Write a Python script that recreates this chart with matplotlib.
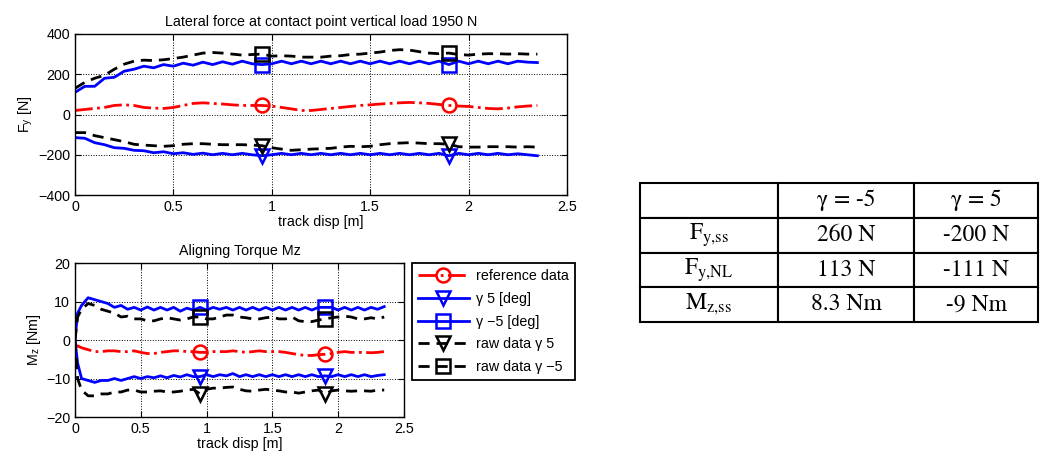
import numpy as np
import matplotlib
matplotlib.use('Agg')
import matplotlib.pyplot as plt

plt.rcParams['font.family'] = ['Liberation Sans', 'DejaVu Sans']
plt.rcParams['font.size'] = 10.3
plt.rcParams['mathtext.fontset'] = 'stix'

# ---- lateral force data, track disp step 0.05 m ----
x_fy = [0.00, 0.05, 0.10, 0.15, 0.20, 0.25, 0.30, 0.35, 0.40, 0.45, 0.50, 0.55,
        0.60, 0.65, 0.70, 0.75, 0.80, 0.85, 0.90, 0.95, 1.00, 1.05, 1.10, 1.15,
        1.20, 1.25, 1.30, 1.35, 1.40, 1.45, 1.50, 1.55, 1.60, 1.65, 1.70, 1.75,
        1.80, 1.85, 1.90, 1.95, 2.00, 2.05, 2.10, 2.15, 2.20, 2.25, 2.30, 2.35]

fy_ref = [20, 25, 30, 35, 45, 48, 45, 35, 32, 30, 35, 45,
          55, 58, 55, 52, 48, 45, 45, 45, 42, 35, 28, 20,
          20, 25, 30, 35, 40, 45, 48, 52, 55, 58, 60, 58,
          55, 50, 45, 42, 40, 35, 30, 28, 32, 38, 42, 45]
fy_g5 = [-115, -118, -140, -150, -165, -168, -178, -180, -190, -185, -195, -190,
         -198, -192, -200, -193, -200, -193, -200, -205, -200, -193, -200, -193,
         -200, -193, -200, -193, -200, -193, -200, -193, -200, -193, -200, -193,
         -200, -193, -205, -193, -200, -193, -200, -193, -200, -195, -200, -205]
fy_gm5 = [110, 140, 140, 180, 185, 215, 225, 240, 232, 248, 240, 255,
          245, 260, 248, 262, 250, 265, 252, 248, 252, 265, 252, 265,
          252, 265, 252, 265, 252, 265, 252, 265, 252, 265, 252, 265,
          252, 265, 248, 265, 252, 265, 252, 265, 252, 265, 260, 258]
fy_raw5 = [-90, -90, -105, -115, -125, -135, -148, -152, -155, -158, -155, -148,
           -145, -145, -148, -150, -150, -150, -152, -155, -165, -172, -178, -175,
           -172, -170, -168, -162, -158, -160, -158, -150, -145, -142, -140, -142,
           -145, -145, -148, -160, -162, -162, -160, -160, -160, -162, -160, -162]
fy_rawm5 = [130, 160, 180, 195, 225, 250, 265, 270, 268, 272, 278, 285,
            295, 305, 308, 305, 300, 295, 298, 300, 290, 292, 290, 285,
            285, 285, 290, 292, 298, 300, 305, 310, 318, 322, 320, 312,
            305, 302, 305, 298, 295, 300, 302, 302, 300, 302, 300, 300]

# ---- aligning torque data ----
x_mz = [0.00, 0.02, 0.05, 0.10, 0.15, 0.20, 0.25, 0.30, 0.35, 0.40, 0.45, 0.50, 0.55,
        0.60, 0.65, 0.70, 0.75, 0.80, 0.85, 0.90, 0.95, 1.00, 1.05, 1.10, 1.15,
        1.20, 1.25, 1.30, 1.35, 1.40, 1.45, 1.50, 1.55, 1.60, 1.65, 1.70, 1.75,
        1.80, 1.85, 1.90, 1.95, 2.00, 2.05, 2.10, 2.15, 2.20, 2.25, 2.30, 2.35]

mz_ref = [-2, -1.5, -2, -2.5, -3, -3, -2.8, -2.8, -3, -3, -2.8, -3.2, -3.5,
          -3.5, -3.2, -3, -2.8, -2.8, -3, -3, -3.2, -3.2, -3, -3, -3,
          -2.8, -3, -3.2, -3, -2.8, -3, -3, -3, -3.2, -3.5, -3.8, -4,
          -4, -3.8, -3.7, -3.5, -3.2, -3, -3.2, -3.2, -3.2, -3.3, -3.2, -3]
mz_g5 = [0, -6, -10, -10.5, -11, -10.5, -10.5, -10, -10.5, -10, -9.5, -10, -9.5,
         -9.8, -9.3, -9.8, -9.2, -9.6, -9, -9.5, -9.5, -9, -9.5, -9, -9.3,
         -8.7, -9.5, -9, -9.5, -9, -9.5, -9, -9.5, -9, -9.5, -9, -9.5,
         -9, -9.5, -9.3, -9.5, -9, -9.5, -9, -9.5, -9, -9.5, -9.2, -9]
mz_gm5 = [0, 7, 9, 11, 10.5, 10, 9.5, 8.5, 9, 8, 8.5, 7.8, 8.6,
          7.8, 8.5, 7.8, 8.5, 7.5, 8.3, 7.8, 8.5, 7.8, 8.5, 8, 8.5,
          7.8, 8.5, 7.8, 8.5, 7.8, 8.5, 7.8, 8.5, 7.8, 8.5, 7.8, 8.5,
          7.8, 8.5, 8.5, 8.5, 7.8, 8.5, 7.8, 8.5, 7.8, 8.5, 8, 8.7]
mz_raw5 = [0, -10, -13, -14.5, -14.5, -14, -14, -13.5, -13.5, -13, -13, -13.5, -13.5,
           -13.3, -13.2, -13.5, -13.5, -13.3, -13, -12.8, -14, -12.8, -12.5, -12.5, -12.3,
           -12.2, -12.8, -13.2, -13.3, -13, -12.8, -13, -13.2, -13.5, -13.5, -13.8, -13.5,
           -13.2, -13, -14, -13.2, -13, -13.2, -13.3, -13.2, -13.2, -13.3, -13, -13]
mz_rawm5 = [0, 6, 8, 9.5, 9, 8, 7.5, 7, 6, 6.2, 5.5, 5.5, 5,
            5, 5.5, 5.8, 5.5, 5.2, 5.5, 6, 6, 5.5, 5.5, 6, 6.5,
            6.5, 6, 5.8, 5.5, 5.5, 5.8, 6, 5.5, 5.5, 6, 5, 4.8,
            4.8, 5.2, 5.5, 5.8, 6, 6.2, 6, 5.5, 5.5, 5.8, 5.5, 6]

marker_x = [0.95, 1.9]
labels = ['reference data', 'γ 5 [deg]', 'γ −5 [deg]', 'raw data γ 5', 'raw data γ −5']

# table
col_labels = ['', 'γ = -5', 'γ = 5']
row_labels = [r'$\mathrm{F}_{\mathrm{y{,}ss}}$', r'$\mathrm{F}_{\mathrm{y{,}NL}}$', r'$\mathrm{M}_{\mathrm{z{,}ss}}$']
cell_vals = [['260 N', '-200 N'], ['113 N', '-111 N'], ['8.3 Nm', '-9 Nm']]

styles = [dict(color='red', ls='-.', marker='o'),
          dict(color='blue', ls='-', marker='v'),
          dict(color='blue', ls='-', marker='s'),
          dict(color='black', ls=(0, (4, 2.5)), marker='v'),
          dict(color='black', ls=(0, (4, 2.5)), marker='s')]


def marks(x):
    x = np.asarray(x)
    return [int(np.argmin(np.abs(x - m))) for m in marker_x]


def draw(ax, x, series):
    hs = []
    for y, st, lab in zip(series, styles, labels):
        h, = ax.plot(x, y, lw=2, markevery=marks(x), ms=10, mfc='none', mew=1.8,
                     label=lab, **st)
        hs.append(h)
    ax.grid(True, ls=':', color='black', lw=0.7)
    ax.tick_params(direction='in', top=True, right=True, length=4)
    for s in ax.spines.values():
        s.set_linewidth(1.0)
    return hs


fig = plt.figure(figsize=(10.4, 4.58), dpi=100)

ax1 = fig.add_axes([0.0721, 0.5742, 0.473, 0.3516])
draw(ax1, x_fy, [fy_ref, fy_g5, fy_gm5, fy_raw5, fy_rawm5])
ax1.set_xlim(0, 2.5)
ax1.set_ylim(-400, 400)
ax1.set_xticks([0, 0.5, 1, 1.5, 2, 2.5])
ax1.set_xticklabels(['0', '0.5', '1', '1.5', '2', '2.5'])
ax1.set_yticks([-400, -200, 0, 200, 400])
ax1.set_xlabel('track disp [m]', labelpad=1)
ax1.set_ylabel('F$_\\mathregular{y}$ [N]', labelpad=2)
ax1.set_title('Lateral force at contact point vertical load 1950 N', fontsize=10.3, pad=6)

ax2 = fig.add_axes([0.0721, 0.0895, 0.3163, 0.336])
hs = draw(ax2, x_mz, [mz_ref, mz_g5, mz_gm5, mz_raw5, mz_rawm5])
ax2.set_xlim(0, 2.5)
ax2.set_ylim(-20, 20)
ax2.set_xticks([0, 0.5, 1, 1.5, 2, 2.5])
ax2.set_xticklabels(['0', '0.5', '1', '1.5', '2', '2.5'])
ax2.set_yticks([-20, -10, 0, 10, 20])
ax2.set_xlabel('track disp [m]', labelpad=1)
ax2.set_ylabel('M$_\\mathregular{z}$ [Nm]', labelpad=2)
ax2.set_title('Aligning Torque Mz', fontsize=10.3, pad=6)

leg = fig.legend(handles=hs, loc='upper left', bbox_to_anchor=(412 / 1040, 1 - 263 / 458),
                 fancybox=False, edgecolor='black', framealpha=1, fontsize=10.3,
                 handlelength=3.5, handletextpad=0.5, borderpad=0.45, labelspacing=0.6,
                 borderaxespad=0)
leg.get_frame().set_linewidth(1.3)

# summary table
axt = fig.add_axes([640 / 1040, 1 - 322 / 458, 398 / 1040, 139 / 458])
axt.axis('off')
rows = [col_labels] + [[r] + v for r, v in zip(row_labels, cell_vals)]
tbl = axt.table(cellText=rows, bbox=[0, 0, 1, 1], colWidths=[138, 136, 124], cellLoc='center')
tbl.auto_set_font_size(False)
for (r, c), cell in tbl.get_celld().items():
    cell.set_linewidth(1.5)
    cell.set_edgecolor('black')
    cell.get_text().set_fontfamily('STIXGeneral')
    cell.get_text().set_fontsize(17)

fig.savefig('out.png', dpi=100)
